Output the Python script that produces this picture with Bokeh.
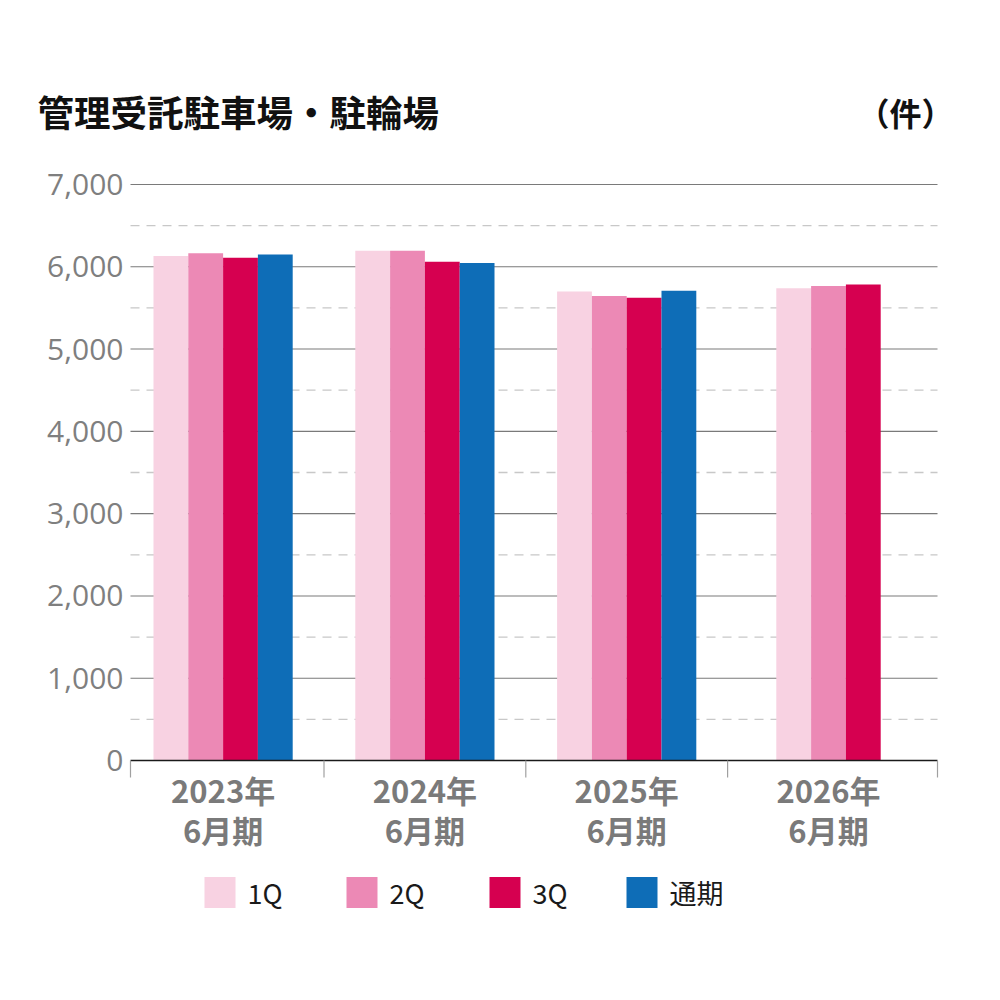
import math
from bokeh.plotting import figure
from bokeh.models import Range1d, ColumnDataSource
from bokeh.core.properties import value
from bokeh.embed import file_html
from bokeh.resources import INLINE

# ---------------- data ----------------
title_text = "管理受託駐車場・駐輪場"
unit_text = "（件）"
year_labels = ["2023年", "2024年", "2025年", "2026年"]
period_labels = ["6月期", "6月期", "6月期", "6月期"]
series_names = ["1Q", "2Q", "3Q", "通期"]
q1 = [6130, 6195, 5700, 5740]
q2 = [6165, 6195, 5645, 5765]
q3 = [6110, 6060, 5625, 5785]
full_year = [6150, 6045, 5710, None]
y_ticks = [0, 1000, 2000, 3000, 4000, 5000, 6000, 7000]
y_tick_labels = ["0", "1,000", "2,000", "3,000", "4,000", "5,000", "6,000", "7,000"]
y_minor_ticks = [500, 1500, 2500, 3500, 4500, 5500, 6500]

series_values = [q1, q2, q3, full_year]
series_colors = ["#F8D2E2", "#EC89B5", "#D60050", "#0E6DB7"]

# ---------------- layout (pixel design) ----------------
W, H = 1000, 1000
X0, K = 121.7, 201.8          # px of category origin, px per category
Y0, S = 760.0, 576.0 / 7000   # px of zero, px per unit


def dx(px):
    return (px - X0) / K


def dy(py):
    return (Y0 - py) / S


p = figure(width=W, height=H, x_range=Range1d(dx(0), dx(W)), y_range=Range1d(dy(H), dy(0)),
           output_backend="svg", toolbar_location=None, x_axis_type=None, y_axis_type=None,
           title=None, min_border=0, min_border_left=0, min_border_right=0,
           min_border_top=0, min_border_bottom=0)
p.outline_line_color = None
p.background_fill_color = "white"
p.border_fill_color = "white"

gl, gr = dx(130), dx(937)
ncat = len(year_labels)

# minor dashed gridlines
p.segment(x0=[gl] * len(y_minor_ticks), x1=[gr] * len(y_minor_ticks), y0=y_minor_ticks, y1=y_minor_ticks,
          line_color="#C8C8C8", line_width=1.3, line_dash="9 7")
# major gridlines (not at zero)
major = [t for t in y_ticks if t != 0]
p.segment(x0=[gl] * len(major), x1=[gr] * len(major), y0=major, y1=major,
          line_color="#7A7A7A", line_width=1.1)

# bars
bw = 34.8 / K
bx, btop, bcol = [], [], []
for i in range(ncat):
    present = [(k, series_values[k][i]) for k in range(len(series_values))
               if series_values[k][i] is not None]
    n = len(present)
    for j, (k, v) in enumerate(present):
        bx.append(i + 0.5 + (j - (n - 1) / 2) * bw)
        btop.append(v)
        bcol.append(series_colors[k])
src = ColumnDataSource(dict(x=bx, top=btop, color=bcol))
p.vbar(x="x", top="top", bottom=0, width=bw, fill_color="color", line_color=None, source=src)

# x axis line and category separators
p.segment(x0=[gl], x1=[gr], y0=[0], y1=[0], line_color="#1a1a1a", line_width=1.6)
sep = [gl] + list(range(1, ncat)) + [gr]
p.segment(x0=sep, x1=sep, y0=[0] * len(sep), y1=[dy(777)] * len(sep),
          line_color="#A0A0A0", line_width=1.2)

# y tick labels
p.text(x=[dx(123)] * len(y_ticks), y=y_ticks, text=y_tick_labels,
       text_align="right", text_baseline="middle", text_font=value("Open Sans"),
       text_font_size="30px", text_color="#7F7F7F")

# x category labels
cx = [i + 0.5 for i in range(ncat)]
p.text(x=cx, y=[dy(789)] * ncat, text=year_labels, text_align="center", text_baseline="middle",
       text_font=value("Noto Sans CJK JP"), text_font_size="31px", text_font_style="bold",
       text_color="#7A7A7A")
p.text(x=cx, y=[dy(829)] * ncat, text=period_labels, text_align="center", text_baseline="middle",
       text_font=value("Noto Sans CJK JP"), text_font_size="31px", text_font_style="bold",
       text_color="#7A7A7A")

# title and unit
p.text(x=[dx(37)], y=[dy(111)], text=[title_text], text_align="left", text_baseline="middle",
       text_font=value("Noto Sans CJK JP"), text_font_size="36.5px", text_font_style="bold",
       text_color="#111111")
p.text(x=[dx(953)], y=[dy(111)], text=[unit_text], text_align="right", text_baseline="middle",
       text_font=value("Noto Sans CJK JP"), text_font_size="32px", text_font_style="bold",
       text_color="#111111")

# legend
leg_left_px = [204, 346, 489, 626]
ly = dy(892)
p.rect(x=[dx(v + 15.5) for v in leg_left_px], y=[ly] * len(leg_left_px), width=31, height=31,
       width_units="screen", height_units="screen", fill_color=series_colors, line_color=None)
p.text(x=[dx(v + 43) for v in leg_left_px], y=[ly] * len(leg_left_px), text=series_names,
       text_align="left", text_baseline="middle", text_font=value("Noto Sans CJK JP"),
       text_font_size="27px", text_color="#1a1a1a")

open("out.html", "w").write(file_html(p, INLINE))
